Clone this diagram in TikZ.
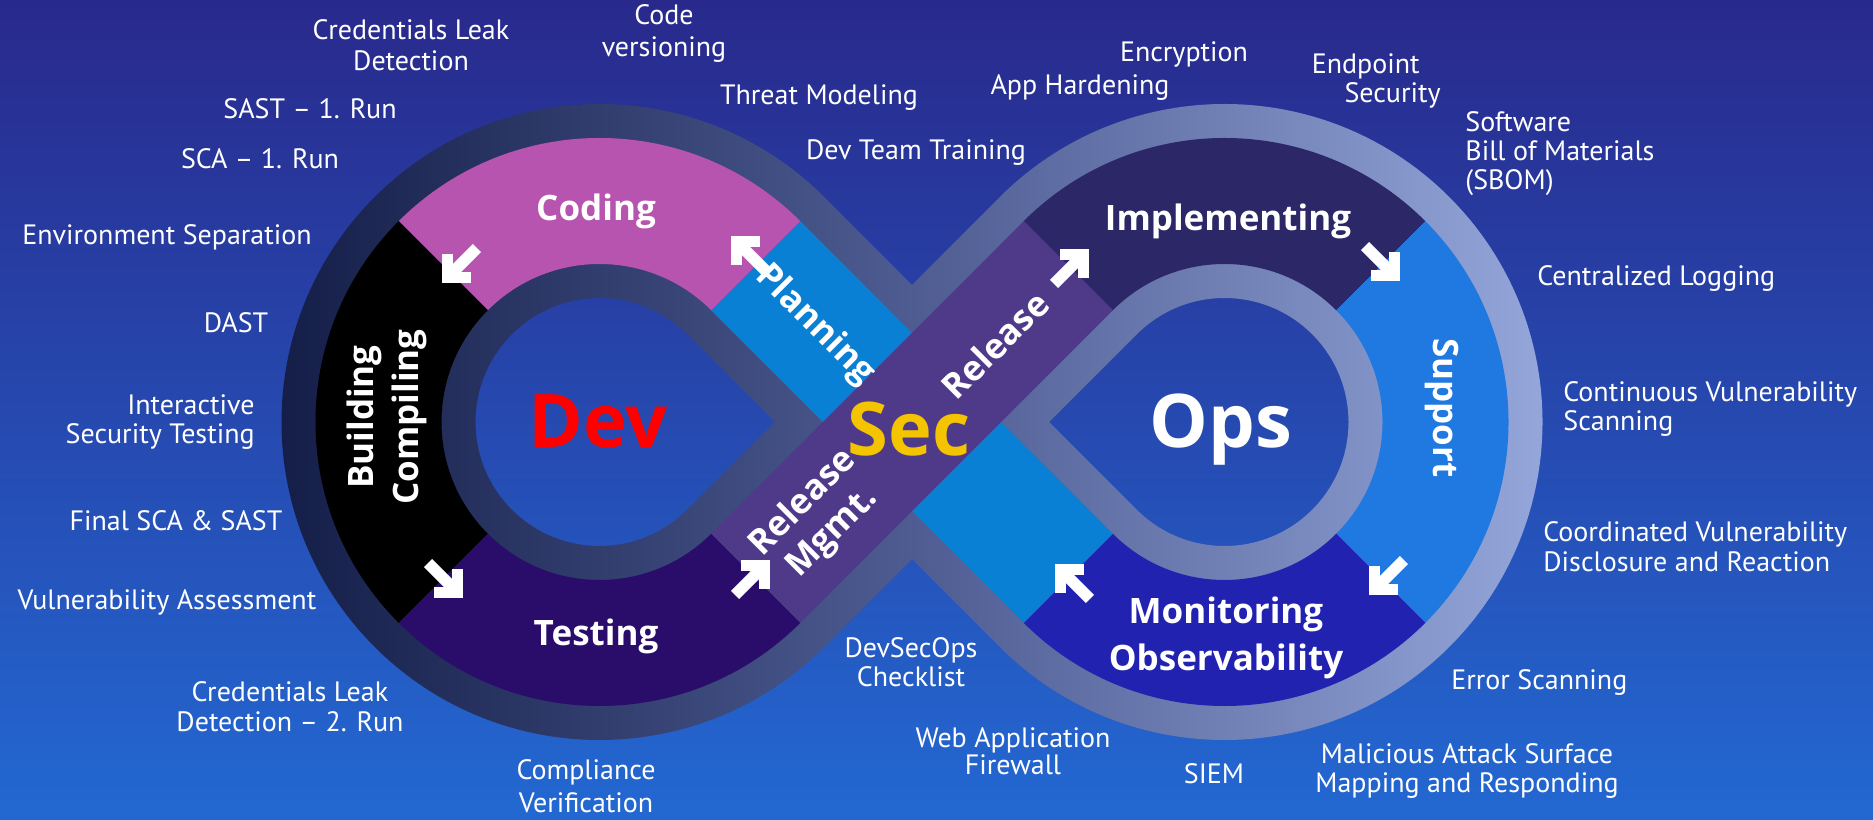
\documentclass[tikz,border=0pt]{standalone}
\usepackage{fontspec}
\setmainfont{PT Sans}
\newfontfamily\bandfont{Open Sans}
\usetikzlibrary{calc}

\definecolor{bgtop}{HTML}{29298C}
\definecolor{bgbot}{HTML}{2368D2}
\definecolor{ringdark}{HTML}{141E48}
\definecolor{ringmid}{HTML}{4E5C92}
\definecolor{ringlight}{HTML}{94A6DA}
\definecolor{coding}{HTML}{B754AF}
\definecolor{building}{HTML}{000000}
\definecolor{testing}{HTML}{2A0D6A}
\definecolor{planning}{HTML}{0A80D5}
\definecolor{release}{HTML}{4F3A8A}
\definecolor{implementing}{HTML}{2C2767}
\definecolor{support}{HTML}{1F79E0}
\definecolor{monitoring}{HTML}{2222B0}
\definecolor{secgold}{HTML}{F5C400}

\tikzset{
  sector/.style n args={5}{insert path={([shift={(#2:#5)}]#1) arc[start angle=#2,end angle=#3,radius=#5*0.5pt] -- ([shift={(#3:#4)}]#1) arc[start angle=#3,end angle=#2,radius=#4*0.5pt] -- cycle}},
  note/.style={text=white, font=\fontsize{14}{14.5}\selectfont, align=center, inner sep=0pt},
  phase/.style={text=white, font=\bandfont\bfseries\fontsize{17.5}{21}\selectfont, inner sep=0pt, align=center},
  big/.style={font=\bandfont\bfseries\fontsize{37}{40}\selectfont, inner sep=0pt, anchor=base},
  flowarrow/.pic={
    \draw[white, line width=5.5pt, line join=miter] (1,16) -- (17,0) -- (1,-16);
    \draw[white, line width=5.8pt] (15,0) -- (-24,0);
  }
}

\begin{document}
\begin{tikzpicture}[x=0.5pt,y=0.5pt]
\useasboundingbox (0,0) rectangle (1873,819);
\shade[top color=bgtop, bottom color=bgbot] (0,0) rectangle (1873,819);

% centres of the two loops and the crossing
\coordinate (L) at (599.5,397);
\coordinate (R) at (1224.5,397);
\coordinate (X) at (912,397);

% grey tube of the figure eight
\begin{scope}
  \clip[sector={L}{45}{315}{124}{318}, sector={R}{-135}{135}{124}{318}]
    ([shift={(45:124)}]L) -- ([shift={(-135:318)}]R) -- ([shift={(-135:124)}]R) -- ([shift={(45:318)}]L) -- cycle
    ([shift={(-45:318)}]L) -- ([shift={(135:124)}]R) -- ([shift={(135:318)}]R) -- ([shift={(-45:124)}]L) -- cycle;
  \shade[left color=ringdark, right color=ringlight, middle color=ringmid] (280,0) rectangle (1546,819);
\end{scope}

% coloured phases
\fill[coding, sector={L}{45}{135}{158}{284}];
\fill[building, sector={L}{135}{225}{158}{284}];
\fill[testing, sector={L}{225}{315}{158}{284}];
\fill[implementing, sector={R}{45}{135}{158}{284}];
\fill[support, sector={R}{-45}{45}{158}{284}];
\fill[monitoring, sector={R}{-135}{-45}{158}{284}];
\fill[planning] ([shift={(45:158)}]L) -- ([shift={(-135:284)}]R) -- ([shift={(-135:158)}]R) -- ([shift={(45:284)}]L) -- cycle;
\fill[release] ([shift={(-45:284)}]L) -- ([shift={(135:158)}]R) -- ([shift={(135:284)}]R) -- ([shift={(-45:158)}]L) -- cycle;

% flow arrows
\pic[rotate=225] at (460,554) {flowarrow};
\pic[rotate=-45] at (445,239) {flowarrow};
\pic[rotate=45] at (752,241) {flowarrow};
\pic[rotate=135] at (749,565) {flowarrow};
\pic[rotate=45] at (1071,552) {flowarrow};
\pic[rotate=-45] at (1382,556) {flowarrow};
\pic[rotate=225] at (1387,242) {flowarrow};
\pic[rotate=135] at (1073,237) {flowarrow};

% phase names
\node[phase, anchor=base] (coding) at (596,598) {Coding};
\node[phase, rotate=90] (build) at (387,402) {Building\\[1.5pt]Compiling};
\node[phase, anchor=base] (test) at (596,173) {Testing};
\node[phase, rotate=-45] (plan) at (815,494) {Planning};
\node[phase, rotate=45] (relmgmt) at (818,301) {Release\\Mgmt.};
\node[phase, rotate=45] (rel) at (995,474) {Release};
\node[phase, anchor=base] (impl) at (1228,588.5) {Implementing};
\node[phase, rotate=-90] (supp) at (1442,411) {Support};
\node[phase, font=\bandfont\bfseries\fontsize{17.5}{23.5}\selectfont] (mon) at (1226,181) {Monitoring\\Observability};

% loop titles
\node[big, text=red] (dev) at (598,371) {Dev};
\node[big, text=secgold] (sec) at (909,363) {Sec};
\node[big, text=white] (ops) at (1221,371) {Ops};

% practices around the loop
\node[note, font=\fontsize{14}{15.5}\selectfont] (credleak) at (411,773.5) {Credentials Leak\\Detection};
\node[note, font=\fontsize{14}{16}\selectfont] (codever) at (664,785) {Code\\versioning};
\node[note] (sast) at (310,710) {SAST – 1. Run};
\node[note] (sca) at (260,660) {SCA – 1. Run};
\node[note] (envsep) at (167,582) {Environment Separation};
\node[note] (dast) at (236,496) {DAST};
\node[note, align=right, anchor=east] (iast) at (255,397) {Interactive\\Security Testing};
\node[note] (final) at (176,298) {Final SCA \& SAST};
\node[note] (vulnassess) at (167,217) {Vulnerability Assessment};
\node[note, font=\fontsize{14}{15}\selectfont] (credleak2) at (290,112) {Credentials Leak\\Detection – 2. Run};
\node[note, font=\fontsize{14}{16.5}\selectfont] (compliance) at (586,33) {Compliance\\Verification};
\node[note] (checklist) at (911,157) {DevSecOps\\Checklist};
\node[note, font=\fontsize{14}{13.5}\selectfont] (waf) at (1013,68) {Web Application\\Firewall};
\node[note] (siem) at (1214,45) {SIEM};
\node[note] (attack) at (1467,48) {Malicious Attack Surface\\Mapping and Responding};
\node[note, anchor=west] (errscan) at (1451,136) {Error Scanning};
\node[note, align=left, anchor=west, font=\fontsize{14}{15}\selectfont] (cvd) at (1543,272) {Coordinated Vulnerability\\Disclosure and Reaction};
\node[note, align=left, anchor=west] (cvs) at (1563,410) {Continuous Vulnerability\\Scanning};
\node[note, anchor=west] (logging) at (1537,540) {Centralized Logging};
\node[note, align=left, anchor=west] (sbom) at (1465,665) {Software\\Bill of Materials\\(SBOM)};
\node[note, align=right, anchor=east] (endpoint) at (1441,738) {Endpoint\hspace*{10.5pt}\\Security};
\node[note] (encrypt) at (1184,765) {Encryption};
\node[note] (harden) at (1080,731) {App Hardening};
\node[note] (threat) at (819,721) {Threat Modeling};
\node[note] (training) at (916,666) {Dev Team Training};
\end{tikzpicture}
\end{document}
